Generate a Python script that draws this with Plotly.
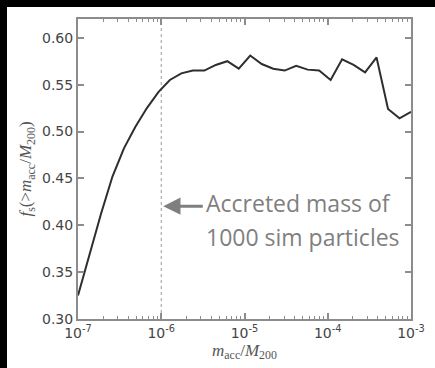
import numpy as np
import plotly.graph_objects as go

# mass ratio m_acc / M_200 (log-spaced sample points)
m_ratio = [1.000e-7, 1.374e-7, 1.887e-7, 2.593e-7, 3.562e-7, 4.894e-7, 6.723e-7,
           9.237e-7, 1.269e-6, 1.743e-6, 2.395e-6, 3.290e-6, 4.520e-6, 6.210e-6,
           8.531e-6, 1.172e-5, 1.610e-5, 2.212e-5, 3.039e-5, 4.175e-5, 5.736e-5,
           7.880e-5, 1.083e-4, 1.487e-4, 2.043e-4, 2.807e-4, 3.857e-4, 5.298e-4,
           7.279e-4, 1.000e-3]
f_s = [0.325, 0.370, 0.412, 0.452, 0.482, 0.505, 0.525, 0.542, 0.555, 0.562,
       0.565, 0.565, 0.571, 0.575, 0.567, 0.581, 0.572, 0.567, 0.565, 0.570,
       0.566, 0.565, 0.555, 0.577, 0.571, 0.563, 0.579, 0.524, 0.514, 0.521]

acc_1000 = 1e-6  # accreted mass of 1000 sim particles
y_range = [0.30, 0.62]
x_tickvals = [1e-7, 1e-6, 1e-5, 1e-4, 1e-3]
x_ticktext = ["10<sup>-7</sup>", "10<sup>-6</sup>", "10<sup>-5</sup>",
              "10<sup>-4</sup>", "10<sup>-3</sup>"]
y_tickvals = [0.30, 0.35, 0.40, 0.45, 0.50, 0.55, 0.60]
note_lines = ["Accreted mass of", "1000 sim particles"]

fig = go.Figure()
fig.add_trace(go.Scatter(x=[acc_1000, acc_1000], y=y_range, mode="lines",
                         line=dict(color="#9a9a9a", width=1, dash="dot"),
                         hoverinfo="skip", showlegend=False))
fig.add_trace(go.Scatter(x=m_ratio, y=f_s, mode="lines",
                         line=dict(color="#2e2e2e", width=2), showlegend=False))

axis_common = dict(showline=True, linecolor="#8c8c8c", linewidth=2, mirror="allticks",
                   ticks="inside", tickcolor="#8c8c8c", tickwidth=1.5, ticklen=6,
                   showgrid=False, zeroline=False,
                   tickfont=dict(family="DejaVu Sans", size=14, color="#444444"))

fig.update_xaxes(type="log", range=[-7, -3], tickvals=x_tickvals, ticktext=x_ticktext,
                 minor=dict(ticks="inside", ticklen=3, tickcolor="#8c8c8c", tickwidth=1,
                            dtick="D1", showgrid=False),
                 title=dict(text="<i>m</i><sub>acc</sub>/<i>M</i><sub>200</sub>",
                            font=dict(family="Liberation Serif", size=17, color="#555555"),
                            standoff=2),
                 **axis_common)
fig.update_yaxes(range=y_range, tickvals=y_tickvals, tickformat=".2f",
                 title=dict(text="<i>f</i><sub>s</sub>(&gt;<i>m</i><sub>acc</sub>/<i>M</i><sub>200</sub>)",
                            font=dict(family="Liberation Serif", size=17, color="#555555"),
                            standoff=6),
                 **axis_common)

# arrow
fig.add_annotation(x=np.log10(acc_1000), y=0.4204, xref="x", yref="y", xshift=2,
                   text="", showarrow=True, ax=41, ay=0, axref="pixel", ayref="pixel",
                   arrowhead=2, arrowsize=1.15, arrowwidth=3, arrowcolor="#7f7f7f")
for txt, yp in zip(note_lines, [(312 - 195) / 302, (312 - 229) / 302]):
    fig.add_annotation(x=(199 - 71) / 339, y=yp, xref="paper", yref="paper",
                       text=txt, showarrow=False, xanchor="left", yanchor="middle",
                       font=dict(family="Open Sans", size=23, color="#7f7f7f"))

# page: 7px black strips at top and left, figure fills the rest
fig.update_layout(width=428, height=361, margin=dict(l=71, r=18, t=10, b=49),
                  paper_bgcolor="white", plot_bgcolor="white")
fig.write_html("out.html", config={"displayModeBar": False},
               post_script=("document.body.style.margin='7px 0 0 7px';"
                            "document.body.style.background='black';"
                            "document.body.style.overflow='hidden';"))
